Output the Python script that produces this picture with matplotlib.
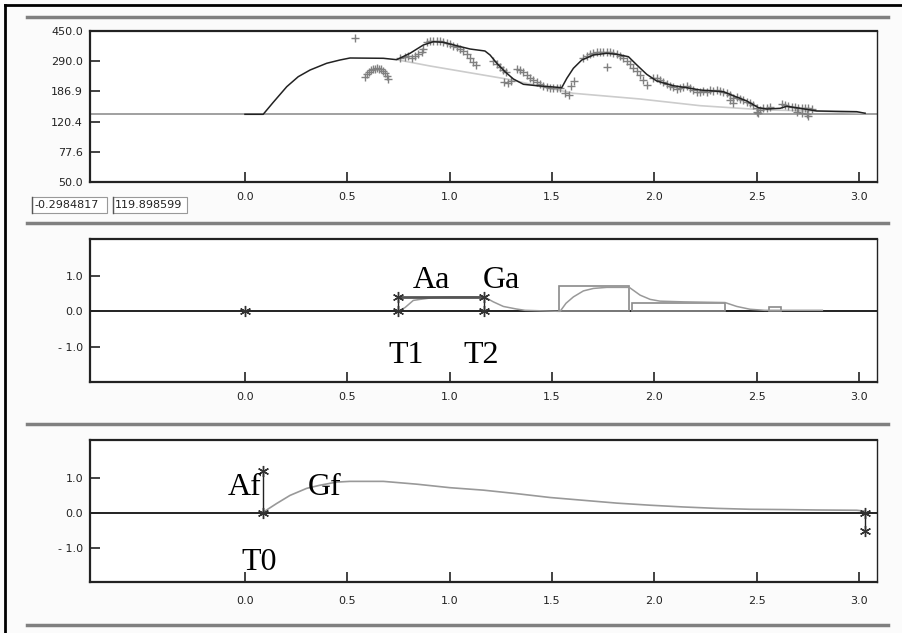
import matplotlib
matplotlib.use("Agg")
import matplotlib.pyplot as plt
from matplotlib.lines import Line2D
from matplotlib.patches import Rectangle
from matplotlib.ticker import NullLocator, NullFormatter

W, H = 902, 633

x_ticks = [0.0, 0.5, 1.0, 1.5, 2.0, 2.5, 3.0]
x_tick_labels = ["0.0", "0.5", "1.0", "1.5", "2.0", "2.5", "3.0"]
f0_ticks = [50.0, 77.6, 120.4, 186.9, 290.0, 450.0]
f0_tick_labels = ["50.0", "77.6", "120.4", "186.9", "290.0", "450.0"]
cmd_ticks = [1.0, 0.0, -1.0]
cmd_tick_labels = ["1.0", "0.0", "- 1.0"]

cursor_t = "-0.2984817"
cursor_hz = "119.898599"

baseline_hz = 134.0

# model F0 contour (black)
model_t = [0.0, 0.089, 0.138, 0.204, 0.260, 0.318, 0.399, 0.464, 0.513, 0.676, 0.741,
           0.806, 0.871, 0.920, 0.969, 1.034, 1.099, 1.172, 1.197, 1.230, 1.270, 1.311,
           1.360, 1.425, 1.490, 1.547, 1.572, 1.604, 1.645, 1.702, 1.767, 1.816, 1.873,
           1.914, 1.962, 2.011, 2.092, 2.158, 2.223, 2.337, 2.385, 2.451, 2.508, 2.549,
           2.614, 2.646, 2.711, 2.793, 2.988, 3.029]
model_hz = [133.9, 133.9, 159.4, 200.1, 231.4, 255.1, 281.3, 295.1, 303.8, 302.5, 296.4,
            325.3, 367.0, 385.0, 381.8, 363.3, 346.3, 336.4, 317.4, 281.3, 248.9, 223.8,
            207.2, 203.0, 200.1, 197.2, 226.1, 261.5, 295.1, 317.4, 325.3, 320.6, 309.6,
            274.4, 239.7, 217.4, 203.0, 197.2, 190.7, 186.0, 175.5, 162.5, 147.4, 144.6,
            146.1, 150.4, 146.1, 140.5, 139.1, 135.9]

# phrase component only (light grey)
phrase_t = [0.749, 0.904, 1.278, 1.604, 1.930, 2.223, 2.418, 2.549, 2.793, 3.029]
phrase_hz = [295.1, 270.4, 223.8, 181.8, 167.3, 151.8, 146.1, 142.6, 140.5, 135.9]

# measured F0 points (+)
obs_t = [0.537,
         0.586, 0.596, 0.606, 0.616, 0.625, 0.635, 0.645, 0.655, 0.664, 0.674, 0.684, 0.694, 0.699,
         0.757, 0.782, 0.798, 0.814, 0.830, 0.847, 0.863, 0.871,
         0.888, 0.904, 0.920, 0.936, 0.953, 0.969, 0.985, 1.001, 1.018, 1.034, 1.050, 1.066,
         1.083, 1.099, 1.115, 1.128,
         1.213, 1.230, 1.246, 1.262, 1.275,
         1.265, 1.285, 1.299,
         1.327, 1.343, 1.360, 1.376, 1.392, 1.408, 1.425, 1.441, 1.457, 1.474, 1.490, 1.506,
         1.523, 1.539,
         1.563, 1.582, 1.593, 1.607,
         1.653, 1.669, 1.685, 1.702, 1.718, 1.734, 1.750, 1.767, 1.783, 1.799, 1.816, 1.832,
         1.848, 1.865, 1.881, 1.897, 1.914, 1.930, 1.946, 1.962, 1.768,
         1.995, 2.011, 2.027, 2.044, 2.060, 2.076, 2.092, 2.109, 2.125, 2.141, 2.158,
         2.174, 2.190, 2.207, 2.223, 2.239, 2.255, 2.272, 2.288, 2.304, 2.321, 2.337, 2.353,
         2.369, 2.385, 2.402, 2.418, 2.434, 2.451, 2.467, 2.483, 2.500, 2.369, 2.384,
         2.500, 2.508, 2.516, 2.532, 2.549, 2.565,
         2.622, 2.638, 2.654, 2.671, 2.687, 2.703, 2.720, 2.736, 2.752, 2.768,
         2.695, 2.720, 2.744, 2.751]
obs_hz = [404.6,
          230.4, 240.7, 247.8, 253.3, 257.0, 260.7, 262.7, 260.7, 257.0, 251.5, 242.5, 233.8, 223.8,
          302.5, 309.6, 314.2, 305.2, 314.2, 320.6, 333.0, 346.3,
          385.0, 389.0, 390.8, 390.8, 389.0, 385.0, 379.6, 372.5, 363.3, 355.0, 346.3, 336.4,
          320.6, 302.5, 285.4, 274.4,
          290.9, 278.4, 266.6, 255.1, 247.8,
          214.3, 211.1, 217.4,
          258.9, 255.1, 246.7, 237.2, 228.1, 220.6, 213.3, 207.2, 202.1, 198.3, 197.2, 197.2,
          195.5, 195.5,
          181.8, 177.3, 202.1, 217.4,
          302.5, 314.2, 320.6, 326.7, 330.0, 333.0, 333.0, 333.0, 331.5, 326.7, 320.6, 312.8,
          302.5, 290.9, 277.2, 263.8, 251.5, 237.2, 220.6, 205.1, 267.7,
          226.1, 228.1, 220.6, 213.3, 207.2, 203.0, 200.1, 193.5, 195.5, 200.1, 202.1,
          195.5, 190.7, 186.0, 186.0, 188.0, 186.0, 189.9, 188.8, 190.7, 188.8, 186.0, 181.8,
          177.3, 169.0, 173.0, 167.3, 164.9, 160.8, 157.2, 153.3, 147.4, 164.9, 157.8,
          137.9, 135.9, 142.6, 146.1, 147.4, 149.6,
          154.9, 153.3, 151.1, 149.6, 148.9, 147.4, 146.8, 146.1, 146.1, 144.6,
          137.5, 135.5, 134.5, 130.6]

# accent commands
acc_on = [0.748, 1.534, 1.889, 2.561]
acc_off = [1.169, 1.877, 2.345, 2.618]
acc_amp = [0.41, 0.73, 0.25, 0.12]
acc_curve_t = [0.749, 0.782, 0.822, 0.855, 0.920, 1.001, 1.169, 1.213, 1.262, 1.327, 1.368,
               1.539, 1.568, 1.604, 1.653, 1.702, 1.767, 1.877, 1.930, 1.979, 2.027, 2.141,
               2.345, 2.402, 2.467, 2.540, 2.820]
acc_curve_y = [0.0, 0.11, 0.31, 0.34, 0.39, 0.41, 0.41, 0.27, 0.14, 0.066, 0.03,
               0.0, 0.23, 0.41, 0.58, 0.65, 0.68, 0.68, 0.46, 0.34, 0.29, 0.27,
               0.25, 0.14, 0.06, 0.03, 0.03]
start_marker_t = [0.0]

# phrase commands
phr_t = [0.086, 3.03]
phr_amp = [1.19, -0.53]
phr_curve_t = [0.086, 0.155, 0.220, 0.301, 0.366, 0.448, 0.513, 0.676, 0.839, 1.001, 1.164,
               1.327, 1.490, 1.653, 1.816, 1.979, 2.141, 2.304, 2.467, 2.630, 2.793, 2.988, 3.029]
phr_curve_y = [0.0, 0.26, 0.49, 0.69, 0.78, 0.87, 0.89, 0.89, 0.81, 0.71, 0.64,
               0.54, 0.43, 0.35, 0.27, 0.21, 0.16, 0.12, 0.094, 0.086, 0.074, 0.066, 0.04]

# labels (text, x, y) in data units of the panel
acc_labels = [("Aa", 0.821, 0.66), ("Ga", 1.163, 0.66), ("T1", 0.699, -1.46), ("T2", 1.065, -1.46)]
phr_labels = [("Af", -0.083, 0.49), ("Gf", 0.308, 0.49), ("T0", -0.015, -1.65)]

XLIM = (-0.757, 3.087)
AST = (6, 2, 0)


def fx(px):
    return px / W


def fy(py):
    return 1 - py / H


def setup_axes(ax, xpad):
    ax.set_xlim(*XLIM)
    ax.set_xticks(x_ticks)
    ax.set_xticklabels(x_tick_labels)
    ax.tick_params(axis='x', direction='in', length=7, width=1.2, labelsize=8, pad=xpad,
                   top=False, colors='#222')
    ax.tick_params(axis='y', direction='in', length=7, width=1.2, labelsize=8, pad=5,
                   right=False, colors='#222')
    for s in ax.spines.values():
        s.set_linewidth(1.6)
        s.set_color('#222')
    ax.spines['right'].set_linewidth(1.0)
    ax.set_facecolor('white')


fig = plt.figure(figsize=(W / 100, H / 100), dpi=100)
fig.patch.set_facecolor('#fbfbfb')

# ---- top panel: F0
ax1 = fig.add_axes([fx(90), fy(182), fx(877) - fx(90), fy(31) - fy(182)])
setup_axes(ax1, 7)
ax1.set_yscale('log')
ax1.set_ylim(50, 450)
ax1.yaxis.set_minor_locator(NullLocator())
ax1.yaxis.set_minor_formatter(NullFormatter())
ax1.set_yticks(f0_ticks)
ax1.set_yticklabels(f0_tick_labels)
ax1.axhline(baseline_hz, color='#999999', lw=1.3, zorder=1)
ax1.plot(phrase_t, phrase_hz, color='#cccccc', lw=1.2, zorder=2)
ax1.plot(obs_t, obs_hz, ls='none', marker='+', ms=6, mew=1.0, color='#808080', zorder=3)
ax1.plot(model_t, model_hz, color='#222222', lw=1.1, zorder=4)

# ---- middle panel: accent commands
ax2 = fig.add_axes([fx(90), fy(382), fx(877) - fx(90), fy(239) - fy(382)])
setup_axes(ax2, 7)
ax2.set_ylim(-2.0, 2.05)
ax2.set_yticks(cmd_ticks)
ax2.set_yticklabels(cmd_tick_labels)
ax2.axhline(0, color='#111111', lw=1.3, zorder=1)
for i in range(1, len(acc_on)):
    ax2.add_patch(Rectangle((acc_on[i], 0), acc_off[i] - acc_on[i], acc_amp[i],
                            fill=False, ec='#8a8a8a', lw=1.2, zorder=2))
ax2.plot([acc_on[0], acc_off[0]], [acc_amp[0], acc_amp[0]], color='#555555', lw=2.0, zorder=3)
ax2.plot([acc_on[0], acc_on[0]], [0, acc_amp[0]], color='#222222', lw=1.0, zorder=3)
ax2.plot([acc_off[0], acc_off[0]], [0, acc_amp[0]], color='#222222', lw=1.0, zorder=3)
ax2.plot(acc_curve_t, acc_curve_y, color='#999999', lw=1.1, zorder=2)
ax2.plot([acc_on[0], acc_on[0], acc_off[0], acc_off[0]], [0, acc_amp[0], 0, acc_amp[0]],
         ls='none', marker=AST, ms=8, mew=1.0, color='#333333', zorder=4)
ax2.plot(start_marker_t, [0] * len(start_marker_t), ls='none', marker=AST, ms=8, mew=1.0,
         color='#333333', zorder=4)
for txt, x, y in acc_labels:
    ax2.text(x, y, txt, family=['Liberation Serif', 'DejaVu Serif'], fontsize=23,
             ha='left', va='baseline', color='black', zorder=5)

# ---- bottom panel: phrase commands
ax3 = fig.add_axes([fx(90), fy(582), fx(877) - fx(90), fy(440) - fy(582)])
setup_axes(ax3, 10)
ax3.set_ylim(-1.98, 2.07)
ax3.set_yticks(cmd_ticks)
ax3.set_yticklabels(cmd_tick_labels)
ax3.axhline(0, color='#111111', lw=1.3, zorder=1)
ax3.plot(phr_curve_t, phr_curve_y, color='#999999', lw=1.2, zorder=2)
for t, a in zip(phr_t, phr_amp):
    ax3.plot([t, t], [0, a], color='#222222', lw=1.0, zorder=3)
    ax3.plot([t, t], [0, a], ls='none', marker=AST, ms=8, mew=1.0, color='#333333', zorder=4)
for txt, x, y in phr_labels:
    ax3.text(x, y, txt, family=['Liberation Serif', 'DejaVu Serif'], fontsize=23,
             ha='left', va='baseline', color='black', zorder=5)

# ---- window decorations
fig.add_artist(Line2D([fx(5), 1], [fy(5), fy(5)], color='black', lw=2))
fig.add_artist(Line2D([fx(5), fx(5)], [0, fy(5)], color='black', lw=2))
for py in [17, 223, 424, 625]:
    fig.add_artist(Line2D([fx(27), fx(888)], [fy(py), fy(py)], color='#808080', lw=2.5))

for (x0, x1), txt in zip([(32, 107), (113, 187)], [cursor_t, cursor_hz]):
    fig.add_artist(Rectangle((fx(x0), fy(213)), fx(x1) - fx(x0), fy(197) - fy(213),
                             fc='white', ec='#999999', lw=0.8))
    fig.add_artist(Line2D([fx(x0), fx(x0)], [fy(213), fy(197)], color='#555555', lw=1.0))
    fig.text(fx(x0 + 2), fy(205), txt, fontsize=8, ha='left', va='center', color='#222')

fig.savefig('out.png', dpi=100, facecolor=fig.get_facecolor())
